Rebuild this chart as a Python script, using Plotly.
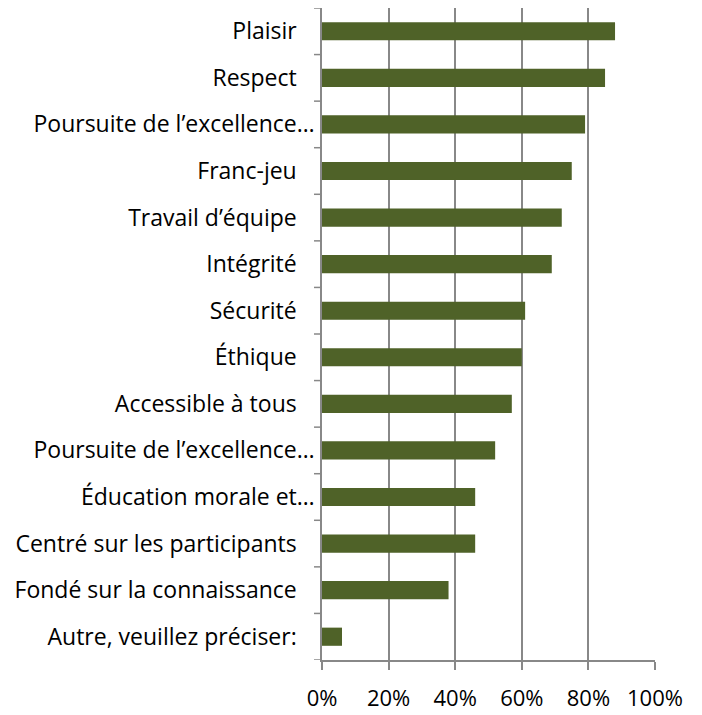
import plotly.graph_objects as go

categories = [
    "Plaisir",
    "Respect",
    "Poursuite de l’excellence…",
    "Franc-jeu",
    "Travail d’équipe",
    "Intégrité",
    "Sécurité",
    "Éthique",
    "Accessible à tous",
    "Poursuite de l’excellence…",
    "Éducation morale et…",
    "Centré sur les participants",
    "Fondé sur la connaissance",
    "Autre, veuillez préciser:",
]
values = [0.88, 0.85, 0.79, 0.75, 0.72, 0.69, 0.61, 0.60, 0.57, 0.52, 0.46, 0.46, 0.38, 0.06]
tick_vals = [0, 0.2, 0.4, 0.6, 0.8, 1.0]
tick_text = ["0%", "20%", "40%", "60%", "80%", "100%"]

# unique y keys so duplicate labels stay separate rows
ykeys = list(range(len(categories)))[::-1]
# non-truncated labels sit a little further from the axis (as in Excel)
label_text = [c if c.endswith("…") else c + "\u00a0\u00a0\u00a0" for c in categories]

fig = go.Figure(go.Bar(
    x=values,
    y=ykeys,
    orientation="h",
    marker=dict(color="#4F6228", line=dict(width=0)),
    width=0.39,
    hoverinfo="x",
))

grid = "#888888"
# page body adds an 8px margin, so the figure is 694x707
fig.update_layout(
    width=694, height=707,
    margin=dict(l=314, r=47, t=0, b=55),
    paper_bgcolor="white", plot_bgcolor="white",
    font=dict(family="Open Sans", size=23, color="#000000"),
    showlegend=False,
    xaxis=dict(
        range=[0, 1.0],
        tickvals=tick_vals, ticktext=tick_text,
        tickfont=dict(size=22),
        showgrid=True, gridcolor=grid, gridwidth=1.5,
        showline=True, linecolor=grid, linewidth=1.5,
        ticks="outside", ticklen=8, tickcolor=grid, tickwidth=1.5,
        ticklabelstandoff=10,
        zeroline=False,
        automargin=False,
        fixedrange=True,
    ),
    yaxis=dict(
        type="linear",
        range=[-0.5, len(categories) - 0.5],
        tickvals=ykeys, ticktext=label_text,
        showgrid=False,
        showline=True, linecolor=grid, linewidth=1.5,
        ticks="",
        ticklabelstandoff=1,
        zeroline=False,
        automargin=False,
        fixedrange=True,
    ),
)

# boundary ticks on y axis (between categories)
for b in [i - 0.5 for i in range(len(categories) + 1)]:
    fig.add_shape(type="line", xref="paper", yref="y",
                  x0=-0.024, x1=0, y0=b, y1=b,
                  line=dict(color=grid, width=1.5))

fig.write_html("out.html")
